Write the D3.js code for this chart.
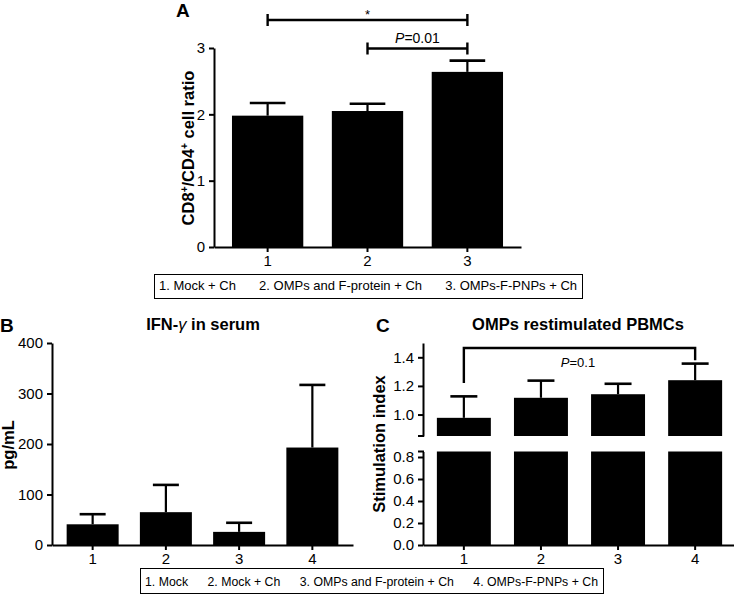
<!DOCTYPE html>
<html><head><meta charset="utf-8">
<script src="https://cdn.jsdelivr.net/npm/d3@7"></script>
<style>
html,body{margin:0;padding:0;background:#fff;}
svg{display:block;font-family:"Liberation Sans",Arial,sans-serif;}
</style></head>
<body>
<svg id="chart" width="734" height="597"></svg>
<script>
// ---- Data ----
const catsA = ["1", "2", "3"];
const meanA = [1.98, 2.05, 2.64];
const errA  = [0.19, 0.11, 0.17];
const ticksA = [0, 1, 2, 3];
const legendA = ["1. Mock + Ch", "2. OMPs and F-protein + Ch", "3. OMPs-F-PNPs + Ch"];

const catsB = ["1", "2", "3", "4"];
const meanB = [41, 65, 26, 193];
const errB  = [20, 54, 18, 124];
const ticksB = [0, 100, 200, 300, 400];

const catsC = ["1", "2", "3", "4"];
const meanC = [0.977, 1.117, 1.142, 1.24];
const errC  = [0.15, 0.12, 0.073, 0.116];
const ticksCLow = [0.0, 0.2, 0.4, 0.6, 0.8];
const ticksCHigh = [1.0, 1.2, 1.4];
const legendB = ["1. Mock", "2. Mock + Ch", "3. OMPs and F-protein + Ch", "4. OMPs-F-PNPs + Ch"];

const svg = d3.select("#chart");
const AXW = 2;

function styleAxis(g, fs) {
  g.selectAll("path.domain").attr("stroke", "#000").attr("stroke-width", AXW);
  g.selectAll(".tick line").attr("stroke", "#000").attr("stroke-width", AXW);
  g.selectAll(".tick text").attr("fill", "#000").style("font-size", fs + "px")
   .style("font-family", '"Liberation Sans",Arial,sans-serif');
}

function drawBars(g, x, yfun, cats, means, errs, base) {
  cats.forEach((c, i) => {
    const bx = x(c), bw = x.bandwidth();
    const yt = yfun(means[i]), yb = yfun(base);
    g.append("rect").attr("x", bx).attr("y", yt).attr("width", bw).attr("height", yb - yt).attr("fill", "#000");
    const cx = bx + bw / 2, ye = yfun(means[i] + errs[i]);
    g.append("line").attr("x1", cx).attr("x2", cx).attr("y1", yt).attr("y2", ye).attr("stroke", "#000").attr("stroke-width", 2.2);
    g.append("line").attr("x1", cx - bw / 4).attr("x2", cx + bw / 4).attr("y1", ye).attr("y2", ye).attr("stroke", "#000").attr("stroke-width", 2.6);
  });
}

// legend box with items spread evenly inside
function legend(items, x0, x1, y0, y1, fs, baseline) {
  const g = svg.append("g");
  g.append("rect").attr("x", x0 + 0.5).attr("y", y0 + 0.5).attr("width", x1 - x0).attr("height", y1 - y0)
    .attr("fill", "none").attr("stroke", "#000").attr("stroke-width", 1);
  const texts = items.map(t => g.append("text").attr("y", baseline).style("font-size", fs + "px").text(t));
  const widths = texts.map(t => t.node().getComputedTextLength());
  const margin = 5;
  const total = d3.sum(widths);
  const gap = (x1 - x0 - 2 * margin - total) / (items.length - 1);
  let cx = x0 + margin;
  texts.forEach((t, i) => { t.attr("x", cx); cx += widths[i] + gap; });
}

// ================= Panel A =================
{
  const xA = d3.scaleBand().domain(catsA).range([214, 521]).paddingInner(0.286).paddingOuter(0.18);
  const yA = d3.scaleLinear().domain([0, 3]).range([247, 48]);
  const g = svg.append("g");
  drawBars(g, xA, yA, catsA, meanA, errA, 0);
  const ya = g.append("g").attr("transform", "translate(214,0)")
    .call(d3.axisLeft(yA).tickValues(ticksA).tickFormat(d3.format("d")).tickSize(5).tickSizeOuter(0).tickPadding(4));
  styleAxis(ya, 15);
  const xa = g.append("g").attr("transform", "translate(0,247)")
    .call(d3.axisBottom(xA).tickSize(5).tickSizeOuter(0).tickPadding(3));
  styleAxis(xa, 15);
  const yl = g.append("text").attr("transform", "translate(194,148) rotate(-90)")
    .attr("text-anchor", "middle").style("font-weight", "bold").style("font-size", "16.5px");
  yl.append("tspan").text("CD8");
  yl.append("tspan").text("+").attr("dy", -6).style("font-size", "10px");
  yl.append("tspan").text("/CD4").attr("dy", 6);
  yl.append("tspan").text("+").attr("dy", -6).style("font-size", "10px");
  yl.append("tspan").text(" cell ratio").attr("dy", 6);
  g.append("text").attr("x", 176).attr("y", 17).text("A").style("font-weight", "bold").style("font-size", "19px");
  const c1 = xA("1") + xA.bandwidth() / 2, c2 = xA("2") + xA.bandwidth() / 2, c3 = xA("3") + xA.bandwidth() / 2;
  function sig(xa1, xa2, yy) {
    g.append("line").attr("x1", xa1).attr("x2", xa2).attr("y1", yy).attr("y2", yy).attr("stroke", "#000").attr("stroke-width", 2.6);
    [xa1, xa2].forEach(xx => g.append("line").attr("x1", xx).attr("x2", xx).attr("y1", yy - 6).attr("y2", yy + 6).attr("stroke", "#000").attr("stroke-width", 2.4));
  }
  sig(c1, c3, 20);
  sig(c2, c3, 48.5);
  g.append("text").attr("x", (c1 + c3) / 2).attr("y", 19).attr("text-anchor", "middle").style("font-size", "13px").text("*");
  const pt = g.append("text").attr("x", (c2 + c3) / 2).attr("y", 43).attr("text-anchor", "middle").style("font-size", "14px");
  pt.append("tspan").text("P").style("font-style", "italic");
  pt.append("tspan").text("=0.01");
  legend(legendA, 154, 582, 274, 298, 13, 290);
}

// ================= Panel B =================
{
  const xB = d3.scaleBand().domain(catsB).range([52, 353]).paddingInner(0.29).paddingOuter(0.2);
  const yB = d3.scaleLinear().domain([0, 400]).range([545, 343]);
  const g = svg.append("g");
  drawBars(g, xB, yB, catsB, meanB, errB, 0);
  const ya = g.append("g").attr("transform", "translate(52,0)")
    .call(d3.axisLeft(yB).tickValues(ticksB).tickSize(5).tickSizeOuter(0).tickPadding(4));
  styleAxis(ya, 15);
  const xa = g.append("g").attr("transform", "translate(0,545)")
    .call(d3.axisBottom(xB).tickSize(5).tickSizeOuter(0).tickPadding(3));
  styleAxis(xa, 15);
  g.append("text").attr("transform", "translate(14,445) rotate(-90)").attr("text-anchor", "middle")
    .style("font-weight", "bold").style("font-size", "16.5px").text("pg/mL");
  g.append("text").attr("x", 0).attr("y", 332).text("B").style("font-weight", "bold").style("font-size", "19px");
  const t = g.append("text").attr("x", 203).attr("y", 330).attr("text-anchor", "middle").style("font-weight", "bold").style("font-size", "16.5px");
  t.append("tspan").text("IFN-");
  t.append("tspan").text("γ").style("font-style", "italic").style("font-weight", "normal");
  t.append("tspan").text(" in serum");
}

// ================= Panel C =================
{
  const xC = d3.scaleBand().domain(catsC).range([423, 736]).paddingInner(0.3).paddingOuter(0.18);
  const yLow = d3.scaleLinear().domain([0, 0.85]).range([545, 451.5]);
  const yHigh = d3.scaleLinear().domain([0.85, 1.5]).range([436, 343]);
  const g = svg.append("g");
  catsC.forEach((c, i) => {
    g.append("rect").attr("x", xC(c)).attr("y", yLow(0.85)).attr("width", xC.bandwidth())
      .attr("height", yLow(0) - yLow(0.85)).attr("fill", "#000");
  });
  drawBars(g, xC, yHigh, catsC, meanC, errC, 0.85);
  const yaL = g.append("g").attr("transform", "translate(423,0)")
    .call(d3.axisLeft(yLow).tickValues(ticksCLow).tickFormat(d3.format(".1f")).tickSize(5).tickSizeOuter(0).tickPadding(4));
  styleAxis(yaL, 15);
  const yaH = g.append("g").attr("transform", "translate(423,0)")
    .call(d3.axisLeft(yHigh).tickValues(ticksCHigh).tickFormat(d3.format(".1f")).tickSize(5).tickSizeOuter(0).tickPadding(4));
  styleAxis(yaH, 15);
  [yHigh(0.85), yLow(0.85)].forEach(yy => g.append("line").attr("x1", 418).attr("x2", 424).attr("y1", yy).attr("y2", yy).attr("stroke", "#000").attr("stroke-width", 2));
  const xa = g.append("g").attr("transform", "translate(0,545)")
    .call(d3.axisBottom(xC).tickSize(5).tickSizeOuter(0).tickPadding(3));
  styleAxis(xa, 15);
  g.append("text").attr("transform", "translate(385,444) rotate(-90)").attr("text-anchor", "middle")
    .style("font-weight", "bold").style("font-size", "16.5px").text("Stimulation index");
  g.append("text").attr("x", 376).attr("y", 332).text("C").style("font-weight", "bold").style("font-size", "19px");
  g.append("text").attr("x", 578).attr("y", 330).attr("text-anchor", "middle").style("font-weight", "bold").style("font-size", "16.5px").text("OMPs restimulated PBMCs");
  const c1 = xC("1") + xC.bandwidth() / 2, c4 = xC("4") + xC.bandwidth() / 2;
  g.append("path").attr("d", `M${c1},${yHigh(1.22)}V${yHigh(1.465)}H${c4}V${yHigh(1.38)}`)
    .attr("fill", "none").attr("stroke", "#000").attr("stroke-width", 2.4);
  const pt = g.append("text").attr("x", 578).attr("y", 367).attr("text-anchor", "middle").style("font-size", "13px");
  pt.append("tspan").text("P").style("font-style", "italic");
  pt.append("tspan").text("=0.1");
}
legend(legendB, 140, 603, 568, 593, 12.3, 586);
</script>
</body></html>
